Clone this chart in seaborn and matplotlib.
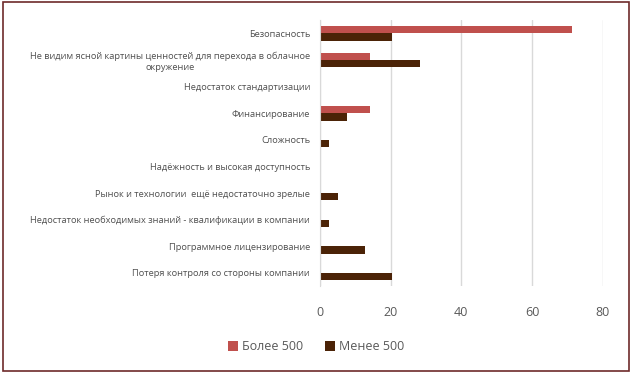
import pandas as pd
import matplotlib.pyplot as plt
import seaborn as sns
from matplotlib.patches import Rectangle

# === Данные ===
categories = [
    "Безопасность",
    "Не видим ясной картины ценностей для перехода в облачное\nокружение",
    "Недостаток стандартизации",
    "Финансирование",
    "Сложность",
    "Надёжность и высокая доступность",
    "Рынок и технологии  ещё недостаточно зрелые",
    "Недостаток необходимых знаний - квалификации в компании",
    "Программное лицензирование",
    "Потеря контроля со стороны компании",
]
bolee_500 = [71.4, 14.3, 0, 14.3, 0, 0, 0, 0, 0, 0]
menee_500 = [20.5, 28.2, 0, 7.7, 2.6, 0, 5.1, 2.6, 12.8, 20.5]
series = ["Более 500", "Менее 500"]
colors = ["#C0504D", "#4B2307"]

df = pd.DataFrame({
    "Категория": categories * 2,
    "Значение": bolee_500 + menee_500,
    "Группа": [series[0]] * len(categories) + [series[1]] * len(categories),
})

# === Визуализация ===
sns.set_style("white")
plt.rcParams['font.family'] = ['Open Sans', 'DejaVu Sans']

fig = plt.figure(figsize=(6.32, 3.73), dpi=100)
ax = fig.add_axes([0.506, 0.233, 0.448, 0.713])

sns.barplot(data=df, y="Категория", x="Значение", hue="Группа",
            hue_order=series, palette=colors, orient="h",
            width=0.56, saturation=1, linewidth=0, ax=ax)

ax.set_xlim(0, 80)
ax.set_xticks([0, 20, 40, 60, 80])
ax.grid(axis='x', color='#D9D9D9', linewidth=1)
ax.set_axisbelow(True)
for s in ['top', 'right', 'bottom']:
    ax.spines[s].set_visible(False)
ax.spines['left'].set_color('#D9D9D9')
ax.set_xlabel('')
ax.set_ylabel('')
ax.tick_params(axis='x', labelsize=9, colors='#595959', length=0, pad=14)
ax.tick_params(axis='y', labelsize=6.7, colors='#505050', length=0, pad=7)
for t in ax.get_yticklabels():
    t.set_multialignment('center')

ax.legend(loc='center', bbox_to_anchor=(0.5, 0.07), bbox_transform=fig.transFigure,
          ncol=2, frameon=False, fontsize=9, labelcolor='#595959',
          handlelength=0.8, handleheight=0.8, handletextpad=0.3, columnspacing=1.8)

# рамка вокруг диаграммы
fig.add_artist(Rectangle((0.004, 0.006), 0.991, 0.988, transform=fig.transFigure,
                         fill=False, edgecolor='#6E2A2A', linewidth=1.2))

plt.savefig('out.png', dpi=100)
